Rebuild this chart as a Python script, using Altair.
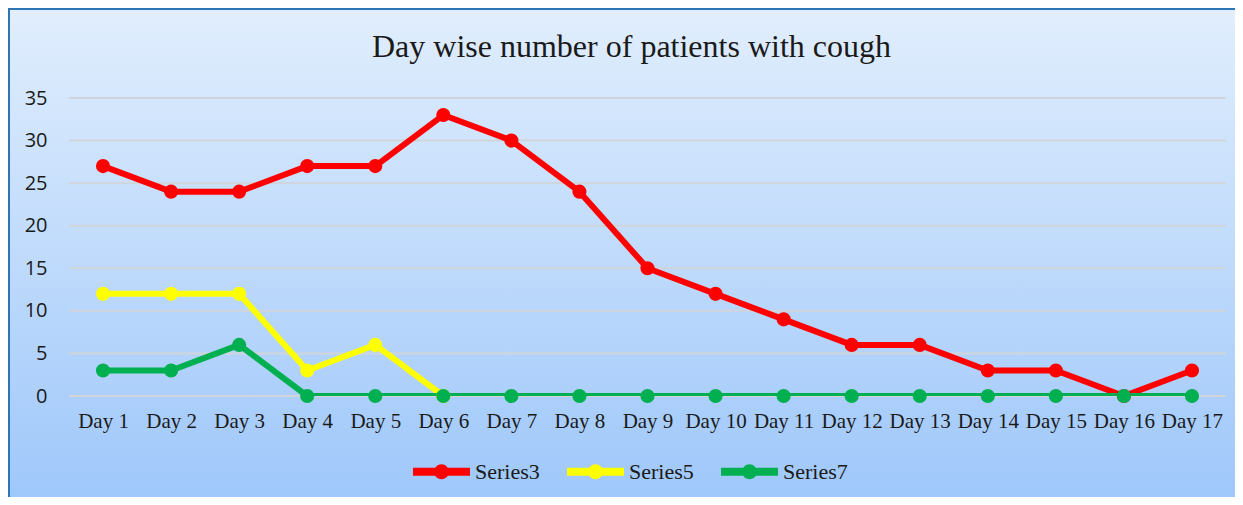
import altair as alt
import pandas as pd

days = [f"Day {i}" for i in range(1, 18)]
series_names = ["Series3", "Series5", "Series7"]
series_colors = ["#ff0000", "#ffff00", "#00b050"]
series3 = [27, 24, 24, 27, 27, 33, 30, 24, 15, 12, 9, 6, 6, 3, 3, 0, 3]
series5 = [12, 12, 12, 3, 6, 0]
series7 = [3, 3, 6, 0, 0, 0, 0, 0, 0, 0, 0, 0, 0, 0, 0, 0, 0]
y_ticks = [0, 5, 10, 15, 20, 25, 30, 35]
title_text = "Day wise number of patients with cough"

rows = []
for name, vals in zip(series_names, [series3, series5, series7]):
    for d, v in zip(days, vals):
        rows.append({"day": d, "series": name, "value": v})
df = pd.DataFrame(rows)
grid_df = pd.DataFrame({"value": y_ticks})

W, H = 1157, 298
PL, PT, PR, PB = 61, 90, 9, 101

bg = alt.Chart(pd.DataFrame({"a": [0]})).mark_rect(
    fill=alt.LinearGradient(
        gradient="linear",
        stops=[alt.GradientStop(color="#e1eefd", offset=0),
               alt.GradientStop(color="#9cc6fa", offset=1)],
        x1=0, x2=0, y1=0, y2=1),
    stroke="#2e75b6", strokeWidth=4,
).encode(x=alt.value(-PL), x2=alt.value(W + PR + 20),
         y=alt.value(-PT), y2=alt.value(H + PB + 20))

x_enc = alt.X("day:N", sort=days,
              scale=alt.Scale(type="point", padding=0.5),
              axis=alt.Axis(title=None, labelAngle=0, domain=False, ticks=False,
                            grid=False, labelFont="Liberation Serif",
                            labelFontSize=21, labelPadding=14,
                            labelColor="#1a1a1a", zindex=1))
y_scale = alt.Scale(domain=[0, 35], nice=False)
y_axis = alt.Axis(values=y_ticks, title=None, domain=False, ticks=False,
                  grid=False, labelFont="Open Sans", labelFontSize=20,
                  labelPadding=22, labelColor="#1a1a1a", zindex=1)
y_enc = alt.Y("value:Q", scale=y_scale, axis=y_axis)

grid = alt.Chart(grid_df).mark_rule(color="#cfd5da", strokeWidth=2).encode(
    y=y_enc)

sym_path = ("M-1,-0.14H1V0.14H-1Z "
            "M-0.26,0A0.26,0.26 0 1,1 0.26,0A0.26,0.26 0 1,1 -0.26,0Z")

color_enc = alt.Color("series:N",
                      scale=alt.Scale(domain=series_names, range=series_colors),
                      legend=alt.Legend(orient="none", legendX=344, legendY=345,
                                        direction="horizontal", title=None,
                                        symbolType=sym_path, symbolSize=3249,
                                        symbolStrokeWidth=0, symbolOpacity=1,
                                        labelFont="Liberation Serif",
                                        labelFontSize=22, labelColor="#1a1a1a",
                                        labelOffset=5, columnPadding=27,
                                        zindex=1))

lines = alt.Chart(df).mark_line(strokeWidth=6, clip=True, strokeJoin="round",
                                strokeCap="round").encode(
    x=x_enc, y=y_enc, color=color_enc)
points = alt.Chart(df).mark_circle(size=200, opacity=1).encode(
    x=x_enc, y=y_enc, color=color_enc)

chart = alt.layer(bg, grid, lines, points).properties(
    width=W, height=H,
    padding={"left": PL, "top": PT, "right": PR, "bottom": PB},
    autosize="none",
    title=alt.TitleParams(title_text, font="Liberation Serif", fontSize=32,
                          fontWeight="normal", color="#1a1a1a", anchor="middle",
                          dx=-16, offset=-83, frame="group", baseline="alphabetic",
                          zindex=1),
).configure_view(stroke=None).configure(background="white")

chart.save("out.html", embed_options={"renderer": "svg", "actions": False})
